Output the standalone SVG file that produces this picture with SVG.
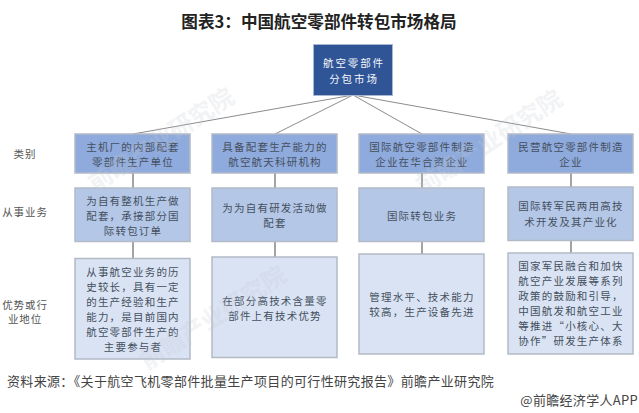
<svg xmlns="http://www.w3.org/2000/svg" width="639" height="413" viewBox="0 0 639 413">
<style>
text{font-family:"Noto Sans CJK SC","Liberation Sans",sans-serif;text-anchor:middle;dominant-baseline:central}
.t{font-size:10.5px;letter-spacing:1.200px;fill:#44505e}
.w{font-size:10.5px;letter-spacing:1.9px;fill:#f4f6fa}
.l{font-size:10.5px;letter-spacing:.9px;fill:#555}
.b{stroke:#b3bac6;stroke-width:1.5}
.r1{fill:#8faadc}.r2{fill:#b4c7e7}.r3{fill:#dae3f3}
.c line{stroke:#8c8c8c;stroke-width:1}
.v line{stroke:#a3a3a3;stroke-width:2}
.wm{font-size:24px;font-weight:700;fill:#c4cad4;opacity:.22}
</style>
<rect width="639" height="413" fill="#fff"/>
<g id="title"><text x="319" y="21" style="font-size:16.600px;font-weight:700;fill:#222">图表3&#xFF1A;中国航空零部件转包市场格局</text></g>
<g id="connectors" class="c">
<line x1="353" y1="95" x2="133" y2="134"/><line x1="353" y1="95" x2="275" y2="134"/><line x1="353" y1="95" x2="422" y2="134"/><line x1="353" y1="95" x2="571" y2="134"/>
<g class="v"><line x1="133" y1="173" x2="133" y2="188"/><line x1="133" y1="241" x2="133" y2="258"/><line x1="275" y1="173" x2="275" y2="188"/><line x1="275" y1="241" x2="275" y2="257"/><line x1="422" y1="173" x2="422" y2="188"/><line x1="422" y1="241" x2="422" y2="254"/><line x1="571" y1="173" x2="571" y2="187"/><line x1="571" y1="240" x2="571" y2="253"/></g>
</g>
<g id="root"><rect x="313.500" y="44.500" width="79" height="51" fill="#2f5597" stroke="#a9b8d2"/><text class="w" x="354" y="62">航空零部件</text><text class="w" x="354" y="78">分包市场</text></g>
<g id="n11"><rect class="b r1" x="75" y="134" width="115" height="39"/><text class="t" x="133" y="146.500">主机厂的内部配套</text><text class="t" x="133" y="161">零部件生产单位</text></g>
<g id="n12"><rect class="b r1" x="212" y="134" width="125" height="39"/><text class="t" x="275" y="146.500">具备配套生产能力的</text><text class="t" x="275" y="161">航空航天科研机构</text></g>
<g id="n13"><rect class="b r1" x="359" y="134" width="125" height="39"/><text class="t" x="422" y="146.500">国际航空零部件制造</text><text class="t" x="422" y="161">企业在华合资企业</text></g>
<g id="n14"><rect class="b r1" x="508" y="134" width="125" height="39"/><text class="t" x="571" y="146.500">民营航空零部件制造</text><text class="t" x="571" y="161">企业</text></g>
<g id="n21"><rect class="b r2" x="75" y="188" width="115" height="53.500"/><text class="t" x="133" y="200">为自有整机生产做</text><text class="t" x="133" y="215">配套&#xFF0C;承接部分国</text><text class="t" x="133" y="230">际转包订单</text></g>
<g id="n22"><rect class="b r2" x="212" y="188" width="125" height="53.500"/><text class="t" x="275" y="207">为为自有研发活动做</text><text class="t" x="275" y="222">配套</text></g>
<g id="n23"><rect class="b r2" x="359" y="188" width="125" height="53.500"/><text class="t" x="422" y="215">国际转包业务</text></g>
<g id="n24"><rect class="b r2" x="508" y="187" width="125" height="53.500"/><text class="t" x="571" y="205">国际转军民两用高技</text><text class="t" x="571" y="221">术开发及其产业化</text></g>
<g id="n31"><rect class="b r3" x="75" y="258.500" width="115" height="100.500"/><text class="t" x="133" y="271.500">从事航空业务的历</text><text class="t" x="133" y="286.500">史较长&#xFF0C;具有一定</text><text class="t" x="133" y="301.500">的生产经验和生产</text><text class="t" x="133" y="316.500">能力&#xFF0C;是目前国内</text><text class="t" x="133" y="331.500">航空零部件生产的</text><text class="t" x="133" y="346">主要参与者</text></g>
<g id="n32"><rect class="b r3" x="212" y="257" width="125" height="100.500"/><text class="t" x="275" y="300">在部分高技术含量零</text><text class="t" x="275" y="315">部件上有技术优势</text></g>
<g id="n33"><rect class="b r3" x="359" y="254" width="125" height="100"/><text class="t" x="422" y="296.500">管理水平&#x3001;技术能力</text><text class="t" x="422" y="311">较高&#xFF0C;生产设备先进</text></g>
<g id="n34"><rect class="b r3" x="508" y="253" width="125" height="101"/><text class="t" x="571" y="265.500">国家军民融合和加快</text><text class="t" x="571" y="280.500">航空产业发展等系列</text><text class="t" x="571" y="295.500">政策的鼓励和引导&#xFF0C;</text><text class="t" x="571" y="310.500">中国航发和航空工业</text><text class="t" x="571" y="325.500">等推进&#x201C;小核心&#x3001;大</text><text class="t" x="571" y="340">协作&#x201D;研发生产体系</text></g>
<g id="labels"><text class="l" x="25" y="153.500">类别</text><text class="l" x="25" y="211">从事业务</text><text class="l" x="25" y="304">优势或行</text><text class="l" x="25" y="318.500">业地位</text></g>
<g id="watermarks"><text class="wm" transform="translate(160,138) rotate(-33)">前瞻产业研究院</text><text class="wm" transform="translate(212,316) rotate(-33)">前瞻产业研究院</text><text class="wm" transform="translate(488,140) rotate(-33)">前瞻产业研究院</text></g>
<g id="footer"><text x="7" y="380" style="text-anchor:start;font-size:13px;letter-spacing:.34px;fill:#444">资料来源&#xFF1A;&#x300A;关于航空飞机零部件批量生产项目的可行性研究报告&#x300B;前瞻产业研究院</text><text x="638" y="399" style="text-anchor:end;font-size:13px;letter-spacing:.3px;fill:#444">@前瞻经济学人APP</text></g>
</svg>
